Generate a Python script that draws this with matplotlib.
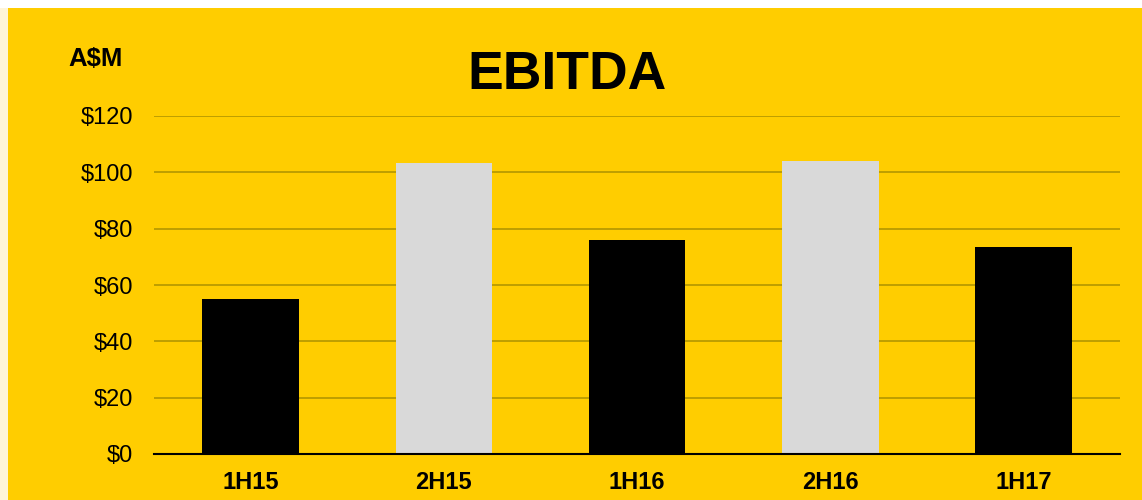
import matplotlib
matplotlib.use("Agg")
import matplotlib.pyplot as plt
from matplotlib.patches import Rectangle

categories = ["1H15", "2H15", "1H16", "2H16", "1H17"]
values = [55.0, 103.3, 76.0, 104.0, 73.5]
bar_colors = ["#000000", "#D9D9D9", "#000000", "#D9D9D9", "#000000"]
yticks = [0, 20, 40, 60, 80, 100, 120]
ytick_labels = ["$0", "$20", "$40", "$60", "$80", "$100", "$120"]

W, H = 1142, 500
fig = plt.figure(figsize=(W / 100, H / 100), dpi=100)
fig.patch.set_facecolor("white")
plt.rcParams["font.family"] = ["Liberation Sans", "DejaVu Sans"]

# yellow panel with cream left strip
fig.patches.append(Rectangle((0, 0), 8 / W, 1 - 8 / H, transform=fig.transFigure,
                             facecolor="#FFF5D8", edgecolor="none", zorder=-2))
fig.patches.append(Rectangle((8 / W, 0), 1 - 8 / W, 1 - 8 / H, transform=fig.transFigure,
                             facecolor="#FFCD00", edgecolor="none", zorder=-1))

left, right = 154 / W, 1120 / W
bottom, top = 1 - 454 / H, 1 - 116 / H
ax = fig.add_axes([left, bottom, right - left, top - bottom])
ax.set_facecolor("none")

x = list(range(len(categories)))
ax.bar(x, values, width=0.5, color=bar_colors, zorder=3)
ax.set_xlim(-0.5, len(categories) - 0.5)
ax.set_ylim(0, 120)
ax.set_yticks(yticks)
ax.set_yticklabels(ytick_labels, fontsize=17)
ax.set_xticks(x)
ax.set_xticklabels(categories, fontsize=17, fontweight="bold")
ax.tick_params(axis="both", length=0)
ax.tick_params(axis="y", pad=15)
ax.tick_params(axis="x", pad=12)
for s in ["top", "right", "left"]:
    ax.spines[s].set_visible(False)
ax.spines["bottom"].set_color("#000000")
ax.spines["bottom"].set_linewidth(1.5)
ax.spines["bottom"].set_zorder(4)
ax.grid(axis="y", color="#B39600", linewidth=1.2, zorder=0)
ax.set_axisbelow(True)

fig.text(567 / W, 1 - 75 / H, "EBITDA", fontsize=38.5, fontweight="bold",
         ha="center", va="center")
fig.text(96 / W, 1 - 59 / H, "A$M", fontsize=18.5, fontweight="bold",
         ha="center", va="center")

fig.savefig("out.png", dpi=100, facecolor=fig.get_facecolor())
